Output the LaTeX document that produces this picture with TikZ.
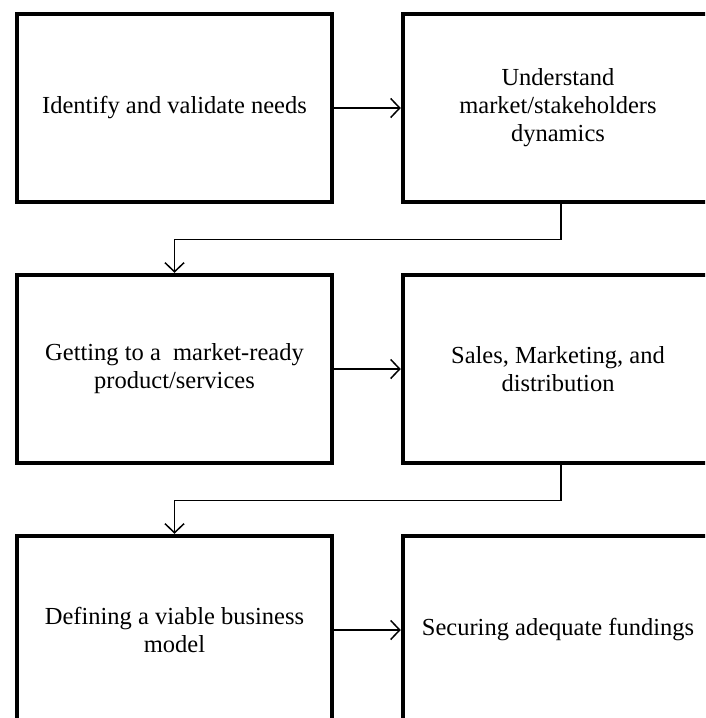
\documentclass[tikz,border=0pt]{standalone}
\usepackage{fontspec}
\setmainfont{Liberation Serif}
\usetikzlibrary{arrows.meta,positioning}

\begin{document}
\begin{tikzpicture}[x=1pt,y=1pt,>={Straight Barb[length=9pt,width=19pt]},
  node distance=68.5pt and 66.5pt,
  b/.style={draw,line width=4.5pt,minimum width=315pt,minimum height=188pt,align=center,inner sep=0pt,font=\fontsize{24.5}{28}\selectfont},
  w/.style={b,minimum width=310pt},
  c/.style={line width=1.5pt}]
\clip (0,0) rectangle (705,-718);
\node[b] (l1) at (174.5,-108) {Identify and validate needs};
\node[w,right=of l1] (r1) {Understand\\market/stakeholders\\dynamics};
\node[b,below=of l1] (l2) {Getting to a\ \ market-ready\\product/services};
\node[w,right=of l2] (r2) {Sales, Marketing, and\\distribution};
\node[b,below=of l2] (l3) {Defining a viable business\\model};
\node[w,right=of l3] (r3) {Securing adequate fundings};
\draw[c,->] (l1) -- (r1); \draw[c,->] (l2) -- (r2); \draw[c,->] (l3) -- (r3);
\draw[c,->] ([xshift=3pt]r1.south) -- ++(0,-35) -| (l2.north);
\draw[c,->] ([xshift=3pt]r2.south) -- ++(0,-35) -| (l3.north);
\end{tikzpicture}
\end{document}
